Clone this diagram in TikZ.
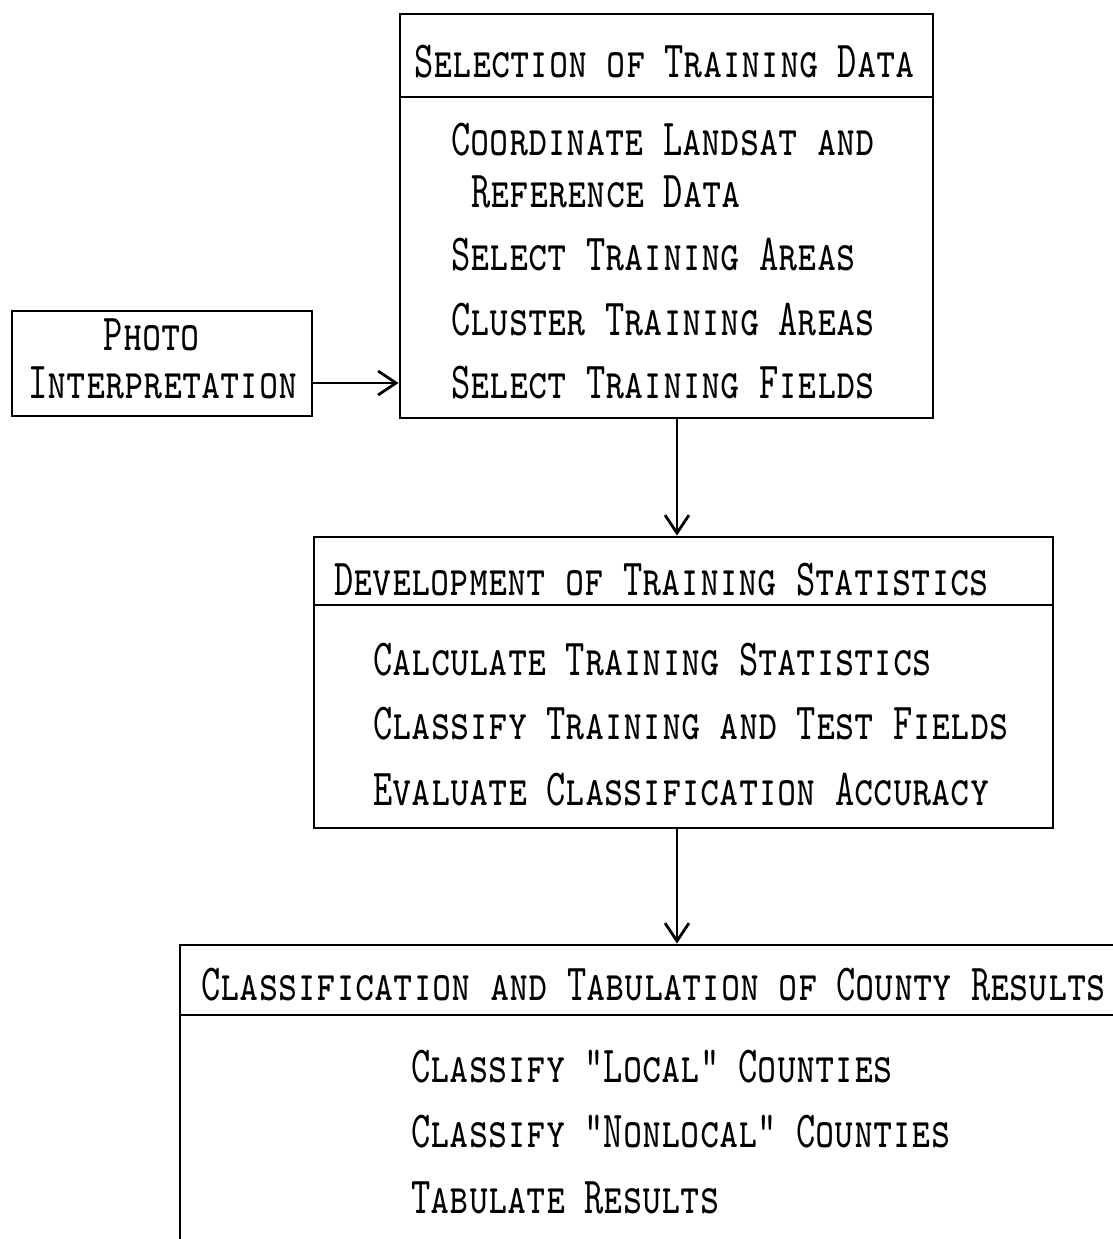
\documentclass[tikz,border=0pt]{standalone}
\usepackage{fontspec}
\newfontfamily\typefont{lmmonocaps10-regular.otf}[FakeStretch=0.705]
\usetikzlibrary{arrows.meta, fit, positioning}

\begin{document}
\begin{tikzpicture}[x=0.5pt,y=-0.5pt,line width=1.4pt,
  >={Straight Barb[length=9pt,width=12pt]},
  box/.style={draw, rectangle, inner sep=0pt},
  txt/.style={anchor=west, inner sep=0pt, font=\typefont\fontsize{26}{26}\selectfont}]

\useasboundingbox (0,0) rectangle (1113,1239);
\clip (0,0) rectangle (1113,1239);

% selection of training data
\node[box, fit={(400,14) (933,418)}] (sel) {};
\draw (400,97) -- (933,97);
\node[txt] (selhead) at (413,62) {Selection of Training Data};
\node[txt] (coord) at (450,140) {Coordinate Landsat and};
\node[txt] (refdata) at (470,192) {Reference Data};
\node[txt] (areas) at (450,255) {Select Training Areas};
\node[txt] (cluster) at (450,320) {Cluster Training Areas};
\node[txt] (fields) at (450,383) {Select Training Fields};

% photo interpretation
\node[box, fit={(12,311) (312,416)}] (photo) {};
\node[txt, anchor=center] (photo1) at (152,335) {Photo};
\node[txt, anchor=center] (photo2) at (163,383) {Interpretation};

% development of training statistics
\node[box, fit={(314,537) (1053,828)}] (dev) {};
\draw (314,605) -- (1053,605);
\node[txt] (devhead) at (333,580) {Development of Training Statistics};
\node[txt] (calc) at (372,660) {Calculate Training Statistics};
\node[txt] (classify) at (372,724) {Classify Training and Test Fields};
\node[txt] (evaluate) at (372,790) {Evaluate Classification Accuracy};

% classification and tabulation
\node[box, fit={(180,945) (1130,1260)}] (cls) {};
\draw (180,1015) -- (1130,1015);
\node[txt] (clshead) at (200,985) {Classification and Tabulation of County Results};
\node[txt] (local) at (410,1067) {Classify "Local" Counties};
\node[txt] (nonlocal) at (410,1132) {Classify "Nonlocal" Counties};
\node[txt] (tabulate) at (410,1198) {Tabulate Results};

\coordinate (ax) at (677,0);
\draw[->] (photo.east |- fields.west) -- (sel.west |- fields.west);
\draw[->] (sel.south -| ax) -- (dev.north -| ax);
\draw[->] (dev.south -| ax) -- (cls.north -| ax);

\end{tikzpicture}
\end{document}
